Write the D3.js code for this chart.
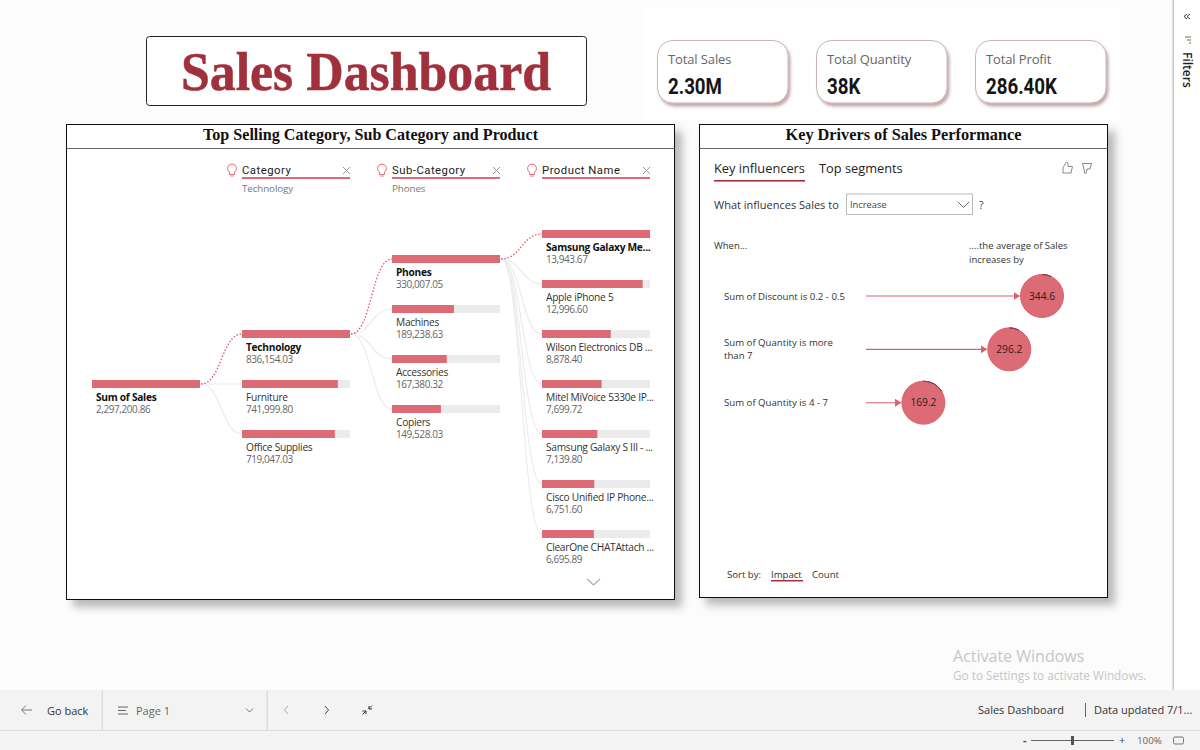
<!DOCTYPE html>
<html>
<head>
<meta charset="utf-8">
<script src="https://cdn.jsdelivr.net/npm/d3@7/dist/d3.min.js"></script>
<style>
html,body{margin:0;padding:0;background:#fcfcfc;overflow:hidden}
svg{display:block}
text{font-family:"Open Sans","Noto Sans",sans-serif}
.serif{font-family:"Liberation Serif",serif;font-weight:bold}
.din{font-family:Roboto,sans-serif}
</style>
</head>
<body>
<svg id="dash" width="1200" height="750"></svg>
<script>
// data
const rootName = ['Sum of Sales'];
const rootValues = [2297200.86];
const categories = ['Technology','Furniture','Office Supplies'];
const categoryValues = [836154.03,741999.80,719047.03];
const subCategories = ['Phones','Machines','Accessories','Copiers'];
const subCategoryValues = [330007.05,189238.63,167380.32,149528.03];
const products = ['Samsung Galaxy Me...','Apple iPhone 5','Wilson Electronics DB ...','Mitel MiVoice 5330e IP...','Samsung Galaxy S III - ...','Cisco Unified IP Phone...','ClearOne CHATAttach ...'];
const productValues = [13943.67,12996.60,8878.40,7699.72,7139.80,6751.60,6695.89];
const influencers = [['Sum of Discount is 0.2 - 0.5'],['Sum of Quantity is more','than 7'],['Sum of Quantity is 4 - 7']];
const influencerValues = [344.6,296.2,169.2];
const kpiLabels = ['Total Sales','Total Quantity','Total Profit'];
const kpiValues = ['2.30M','38K','286.40K'];

const RED = '#dd6b75', TRACK = '#ebebeb', LINK = '#ececec', ACCENT = '#d8394a';
const svg = d3.select('#dash');
const fmt = d3.format(',.2f');

const defs = svg.append('defs');
const shadow = (id,dx,dy,sd,col,op) => defs.append('filter').attr('id',id)
	.attr('x','-10%').attr('y','-10%').attr('width','125%').attr('height','125%')
	.append('feDropShadow').attr('dx',dx).attr('dy',dy).attr('stdDeviation',sd)
	.attr('flood-color',col).attr('flood-opacity',op);
shadow('panelShadow',7,7,4,'#000',0.27);
shadow('cardShadow',2,3,1.6,'#7a3a3f',0.45);

function label(g,x,y,str,size,col,weight){
	return g.append('text').attr('x',x).attr('y',y).text(str)
		.attr('font-size',size).attr('fill',col).attr('font-weight',weight||400);
}

// page background, report area
svg.append('rect').attr('x',644).attr('y',8).attr('width',476).attr('height',112).attr('fill','#fff');
svg.append('rect').attr('x',1174).attr('y',0).attr('width',26).attr('height',690).attr('fill','#fff');
svg.append('rect').attr('x',1172.5).attr('y',0).attr('width',1.5).attr('height',690).attr('fill','#c9c5c2');

// title
svg.append('rect').attr('x',146.5).attr('y',36.5).attr('width',440).attr('height',69).attr('rx',3)
	.attr('fill','#fff').attr('stroke','#222').attr('stroke-width',1);
svg.append('text').attr('class','serif').attr('x',366).attr('y',90).attr('text-anchor','middle')
	.attr('font-size',54).attr('fill','#a0303b').attr('stroke','#a0303b').attr('stroke-width',.5)
	.attr('textLength',370).attr('lengthAdjust','spacingAndGlyphs')
	.text('Sales Dashboard');

// kpi cards
const kpiX = d3.scalePoint().domain(kpiLabels).range([657,975]);
kpiLabels.forEach((k,i) => {
	const g = svg.append('g').attr('transform','translate('+kpiX(k)+',40)');
	g.append('rect').attr('x',.5).attr('y',.5).attr('width',130.5).attr('height',62.5).attr('rx',15)
		.attr('fill','#fff').attr('stroke','#c9b4b6').attr('filter','url(#cardShadow)');
	label(g,11,24,k,13,'#666').attr('letter-spacing',-.12);
	label(g,0,0,kpiValues[i],21.5,'#151515',700).attr('class','din')
		.attr('transform','translate(11,54) scale(.87,1)');
});

// panels
function panel(x,y,w,h,title,tw){
	svg.append('rect').attr('x',x).attr('y',y).attr('width',w).attr('height',h)
		.attr('fill','#fff').attr('stroke','#111').attr('stroke-width',1).attr('filter','url(#panelShadow)');
	svg.append('line').attr('x1',x).attr('x2',x+w).attr('y1',y+24).attr('y2',y+24).attr('stroke','#666').attr('stroke-width',1.2);
	svg.append('text').attr('class','serif').attr('x',x+w/2).attr('y',y+15.5).attr('text-anchor','middle')
		.attr('font-size',16.5).attr('fill','#111').attr('textLength',tw).attr('lengthAdjust','spacingAndGlyphs').text(title);
}
panel(66.5,124.5,608,475,'Top Selling Category, Sub Category and Product',335);
panel(699.5,124.5,408,473,'Key Drivers of Sales Performance',236);

// decomposition tree
const tree = svg.append('g');
const bulb = 'M0,-6a4.500,4.500 0 0 1 2.500,8.200v2.300h-5v-2.300a4.500,4.500 0 0 1 2.500,-8.200zM-1.800,6h3.600';
const BAR_W = 108, BAR_H = 8, STEP = 50;
const linkGen = d3.linkHorizontal().x(d => d[0]).y(d => d[1]);

function drawColumn(x0,top,names,values,parent){
	const w = d3.scaleLinear().domain([0,d3.max(values)]).range([0,BAR_W]);
	const y = d3.scaleLinear().domain([0,1]).range([top,top+STEP]);
	if(parent){
		names.forEach((n,i) => {
			if(i===0) return;
			tree.append('path').attr('fill','none').attr('stroke',LINK).attr('stroke-width',1.2)
				.attr('d',linkGen({source:parent,target:[x0,y(i)+BAR_H/2]}));
		});
		tree.append('path').attr('fill','none').attr('stroke','#e0556a').attr('stroke-width',1.3)
			.attr('stroke-dasharray','1.5 1.8').attr('d',linkGen({source:parent,target:[x0,y(0)+BAR_H/2]}));
	}
	names.forEach((n,i) => {
		tree.append('rect').attr('x',x0).attr('y',y(i)).attr('width',BAR_W).attr('height',BAR_H).attr('fill',TRACK);
		tree.append('rect').attr('x',x0).attr('y',y(i)).attr('width',w(values[i])).attr('height',BAR_H).attr('fill',RED);
		label(tree,x0+4,y(i)+20.5,n,10.2,i===0?'#111':'#333',i===0?700:400).attr('letter-spacing',-.28);
		label(tree,x0+4,y(i)+32.5,fmt(values[i]),10,'#666').attr('letter-spacing',-.42);
	});
	return [x0+BAR_W+1,y(0)+BAR_H/2];
}
const rootEnd = drawColumn(92,380,rootName,rootValues,null);
const catEnd = drawColumn(242,330,categories,categoryValues,rootEnd);
const subEnd = drawColumn(392,255,subCategories,subCategoryValues,catEnd);
drawColumn(542,230,products,productValues,subEnd);

// column headers
const headers = ['Category','Sub-Category','Product Name'];
const selections = ['Technology','Phones',''];
const headerX = d3.scalePoint().domain(headers).range([242,542]);
headers.forEach((h,i) => {
	const g = tree.append('g').attr('transform','translate('+headerX(h)+',0)');
	g.append('path').attr('d',bulb).attr('transform','translate(-10,170)').attr('fill','none').attr('stroke','#e8707c').attr('stroke-width',1);
	label(g,0,173.5,h,11.3,'#222',400).attr('class','din').attr('letter-spacing',.5);
	g.append('line').attr('x1',0).attr('x2',108).attr('y1',178).attr('y2',178).attr('stroke',ACCENT).attr('stroke-width',1.3);
	g.append('path').attr('d','M101,167l7,7M108,167l-7,7').attr('stroke','#999').attr('fill','none');
	if(selections[i]) label(g,0,192,selections[i],9.8,'#777').attr('letter-spacing',-.1);
});
tree.append('path').attr('d','M587,579l6.500,6l6.500,-6').attr('fill','none').attr('stroke','#aaa').attr('stroke-width',1.1);

// key influencers
const ki = svg.append('g');
label(ki,714,173,'Key influencers',12.8,'#222',500);
label(ki,819,173,'Top segments',12.8,'#222',500);
ki.append('rect').attr('x',714).attr('y',180).attr('width',91).attr('height',1.6).attr('fill','#a8303c');
ki.append('path').attr('d','M1063,173v-5.500l3.500,-5.500l1.500,1v3.500h4.500l-1.500,6.500z').attr('fill','none').attr('stroke','#888');
ki.append('path').attr('d','M1082.500,163.500h9l-1.500,5.500h-3l-1,4.500l-1.500,-.5l-.5,-4z').attr('fill','none').attr('stroke','#888');
label(ki,714,209,'What influences Sales to',11,'#333');
ki.append('rect').attr('x',846.5).attr('y',194).attr('width',126).attr('height',20.5).attr('fill','#fff').attr('stroke','#bbb');
label(ki,850,208,'Increase',9.3,'#444');
ki.append('path').attr('d','M958,202l5.500,5.500l5.500,-5.500').attr('fill','none').attr('stroke','#666');
label(ki,979,209,'?',10.5,'#444');
label(ki,714,249,'When...',9.5,'#333');
label(ki,969,249,'....the average of Sales',9.5,'#333');
label(ki,969,262.5,'increases by',9.5,'#333');

const bubbleX = d3.scaleLinear().domain([0,344.6]).range([809,1042]);
const rowY = d3.scalePoint().domain(influencerValues).range([296,402.7]);
const R = 21.5;
defs.append('marker').attr('id','head').attr('markerWidth',7).attr('markerHeight',8).attr('refX',6).attr('refY',4)
	.attr('orient','auto').attr('markerUnits','userSpaceOnUse')
	.append('path').attr('d','M0,0L6.500,4L0,8z').attr('fill','#dd5f6c');
influencerValues.forEach((v,i) => {
	const cx = bubbleX(v), cy = rowY(v);
	const lines = influencers[i];
	lines.forEach((t,j) => label(ki,724,cy+(lines.length>1?-3.500:3.500)+j*13.300,t,9.65,'#333'));
	ki.append('line').attr('x1',866).attr('x2',cx-R-1).attr('y1',cy).attr('y2',cy)
		.attr('stroke','#dd5f6c').attr('stroke-width',1.1).attr('marker-end','url(#head)');
	ki.append('circle').attr('cx',cx).attr('cy',cy).attr('r',R).attr('fill',RED).attr('stroke','#d9636e');
	ki.append('path').attr('fill','none').attr('stroke','#8a3f47').attr('stroke-width',1)
		.attr('d',d3.arc().innerRadius(R).outerRadius(R)({startAngle:0,endAngle:i===2?1:0.45}))
		.attr('transform','translate('+cx+','+cy+')');
	label(ki,cx,cy+3.500,v.toFixed(1),10.2,'#222').attr('text-anchor','middle');
});
label(ki,727,578,'Sort by:',9.6,'#333');
label(ki,771,578,'Impact',9.6,'#333');
ki.append('rect').attr('x',771).attr('y',580).attr('width',32).attr('height',1.5).attr('fill','#a8303c');
label(ki,812,578,'Count',9.6,'#333');

// filters pane
const fp = svg.append('g');
fp.append('path').attr('d','M1187,14l-3,2.500l3,2.500M1190,14l-3,2.500l3,2.500').attr('fill','none').attr('stroke','#333');
fp.append('path').attr('d','M1185,37h6M1187,40h4M1189,43h2').attr('stroke','#7a6a3a').attr('fill','none');
fp.append('text').attr('transform','translate(1183,52) rotate(90)').attr('font-size',12).attr('fill','#222').attr('font-weight',600).text('Filters');

// watermark
label(svg,953,662,'Activate Windows',16,'#c6c6c6');
label(svg,953,680,'Go to Settings to activate Windows.',11.8,'#c6c6c6');

// bottom bar
const bar = svg.append('g');
bar.append('rect').attr('x',0).attr('y',690).attr('width',1200).attr('height',60).attr('fill','#f3f3f3');
bar.append('rect').attr('x',0).attr('y',730).attr('width',1200).attr('height',1).attr('fill','#dcdcdc');
[101.500,266.500].forEach(x => bar.append('rect').attr('x',x).attr('y',690).attr('width',1.5).attr('height',40).attr('fill','#dcdcdc'));
bar.append('path').attr('d','M32,710h-10M26,705.500l-4.500,4.500l4.500,4.500').attr('fill','none').attr('stroke','#777');
label(bar,47,715,'Go back',11,'#333');
bar.append('path').attr('d','M118,707h10M118,710.500h8M118,714h10').attr('fill','none').attr('stroke','#666');
label(bar,136,715,'Page 1',11,'#666');
bar.append('path').attr('d','M246,708.500l3.500,3.500l3.500,-3.500').attr('fill','none').attr('stroke','#777');
bar.append('path').attr('d','M288,706l-3.500,4l3.500,4').attr('fill','none').attr('stroke','#aaa');
bar.append('path').attr('d','M325,706l3.500,4l-3.500,4').attr('fill','none').attr('stroke','#444');
bar.append('path').attr('d','M372,705.500l-3.500,3.500M369,706v3h3M362.500,714.500l3.500,-3.500M362.500,711h3.500v3').attr('fill','none').attr('stroke','#333');
label(bar,978,714,'Sales Dashboard',11,'#333');
bar.append('rect').attr('x',1085).attr('y',703).attr('width',1).attr('height',14).attr('fill','#3a6ea5');
label(bar,1094,714,'Data updated 7/1...',11,'#333');
label(bar,1023,744,'-',11,'#444',700);
bar.append('line').attr('x1',1031).attr('x2',1114).attr('y1',740.500).attr('y2',740.500).attr('stroke','#666');
bar.append('rect').attr('x',1071).attr('y',736).attr('width',3).attr('height',9).attr('fill','#555');
label(bar,1119,744,'+',11,'#444');
label(bar,1137,744,'100%',9.8,'#666');
bar.append('rect').attr('x',1173.500).attr('y',737).attr('width',10).attr('height',7).attr('rx',1.500).attr('fill','none').attr('stroke','#777');
</script>
</body>
</html>
